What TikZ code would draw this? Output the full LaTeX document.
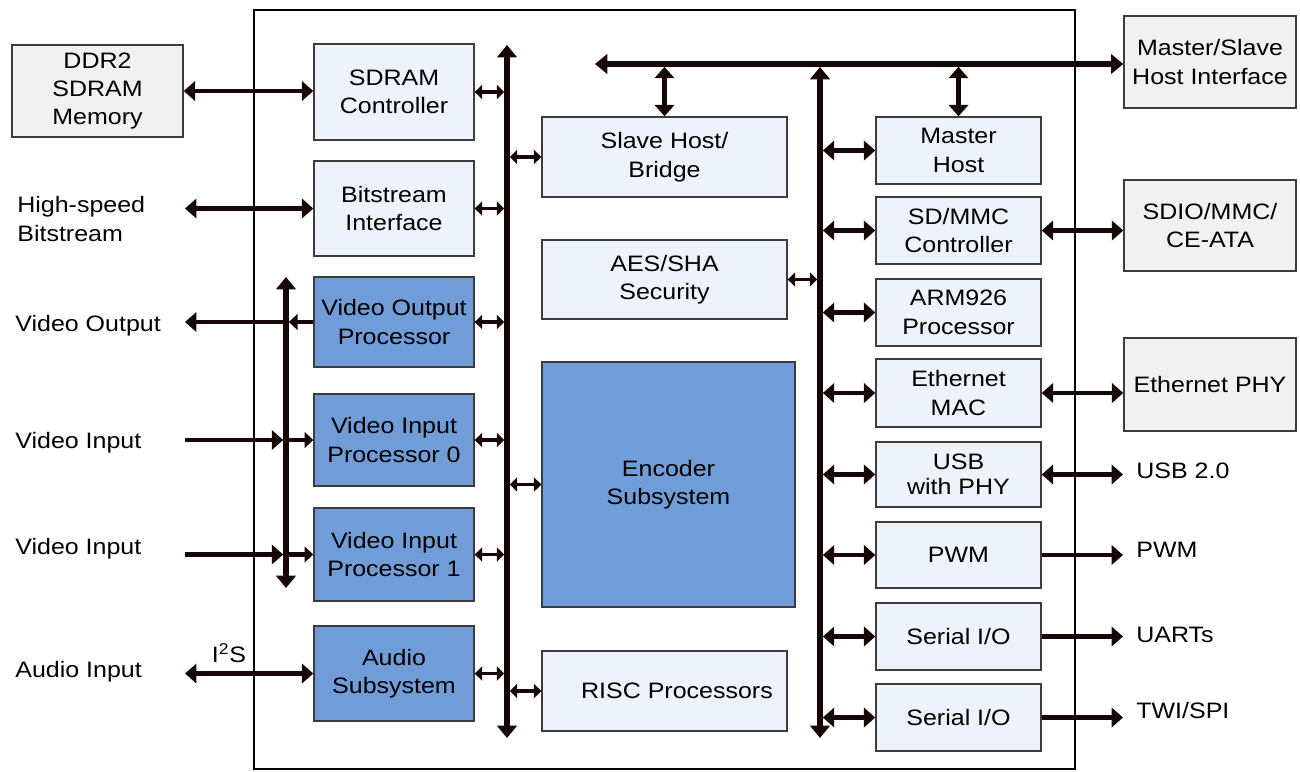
\documentclass[tikz,border=0pt]{standalone}
\usepackage{fontspec}
\setmainfont{Liberation Sans}[FakeStretch=1.12]
\usetikzlibrary{arrows.meta}
\definecolor{boxfill}{RGB}{238,242,250}
\definecolor{extfill}{RGB}{241,241,241}
\definecolor{blkblue}{RGB}{112,156,216}
\definecolor{boxline}{RGB}{60,60,60}
\definecolor{buscol}{RGB}{22,6,6}
\tikzset{
  blk/.style={draw=boxline, fill=boxfill, line width=0.8pt, align=center, inner sep=1pt},
  blueblk/.style={blk, fill=blkblue},
  extblk/.style={blk, fill=extfill},
  lbl/.style={inner sep=0pt, align=left},
  bus/.style={draw=buscol, line width=3.3pt, {Triangle[length=7pt,width=11pt]}-{Triangle[length=7pt,width=11pt]}},
  bigarr/.style={draw=buscol, line width=2.8pt, {Triangle[length=6.5pt,width=11pt]}-{Triangle[length=6.5pt,width=11pt]}},
  outarr/.style={draw=buscol, line width=2.8pt, -{Triangle[length=6.5pt,width=11pt]}},
  smallarr/.style={draw=buscol, line width=2.2pt, {Triangle[length=4.2pt,width=8pt]}-{Triangle[length=4.2pt,width=8pt]}},
  smallout/.style={draw=buscol, line width=2.4pt, -{Triangle[length=5pt,width=9pt]}}
}
\begin{document}
\begin{tikzpicture}[x=0.02cm, y=-0.02cm, font=\fontsize{12.7}{16.2}\selectfont]
    \useasboundingbox (0,0) rectangle (1300,771);
    % chip outline
    \draw[line width=1.3pt] (254,769) -- (254,10) -- (1075,10) -- (1075,769) -- cycle;
    % bus coordinates
    \coordinate (ltop) at (507,45);
    \coordinate (lbot) at (507,738);
    \coordinate (rtop) at (820,67);
    \coordinate (rbot) at (820,738);
    \coordinate (vtop) at (286,277);
    \coordinate (vbot) at (286,588);
    \coordinate (tleft) at (595,64);
    \coordinate (extL) at (185,0);
    \coordinate (extR) at (1123,0);
    % left column
    \node[extblk, minimum width=3.42cm, minimum height=1.84cm] (ddr) at (97.5,91) {DDR2\\SDRAM\\Memory};
    \node[blk, minimum width=3.2cm, minimum height=1.92cm] (sdram) at (394,92) {SDRAM\\Controller};
    \node[blk, minimum width=3.2cm, minimum height=1.9cm] (bits) at (394,208.5) {Bitstream\\Interface};
    \node[blueblk, minimum width=3.2cm, minimum height=1.8cm] (vop) at (394,322) {Video Output\\Processor};
    \node[blueblk, minimum width=3.2cm, minimum height=1.84cm] (vip0) at (394,440) {Video Input\\Processor 0};
    \node[blueblk, minimum width=3.2cm, minimum height=1.86cm] (vip1) at (394,554.5) {Video Input\\Processor 1};
    \node[blueblk, minimum width=3.2cm, minimum height=1.9cm] (audio) at (394,673.5) {Audio\\Subsystem};
    % middle column
    \node[blk, minimum width=4.9cm, minimum height=1.6cm] (slave) at (664.5,157) {Slave Host/\\Bridge};
    \node[blk, minimum width=4.9cm, minimum height=1.58cm] (aes) at (664.5,279.5) {AES/SHA\\Security};
    \node[blueblk, minimum width=5.06cm, minimum height=4.9cm] (enc) at (668.5,484.5) {Encoder\\Subsystem};
    \node[blk, minimum width=4.9cm, minimum height=1.6cm] (risc) at (664.5,691) {\hspace{0.5cm}RISC Processors};
    % right column
    \node[blk, minimum width=3.3cm, minimum height=1.34cm] (mhost) at (958.5,150.5) {Master\\Host};
    \node[blk, minimum width=3.3cm, minimum height=1.34cm] (sdmmc) at (958.5,230.5) {SD/MMC\\Controller};
    \node[blk, minimum width=3.3cm, minimum height=1.34cm] (arm) at (958.5,312.5) {ARM926\\Processor};
    \node[blk, minimum width=3.3cm, minimum height=1.36cm] (emac) at (958.5,393) {Ethernet\\MAC};
    \node[blk, minimum width=3.3cm, minimum height=1.3cm, font=\fontsize{12.7}{14}\selectfont] (usb) at (958.5,474.5) {USB\\with PHY};
    \node[blk, minimum width=3.3cm, minimum height=1.32cm] (pwm) at (958.5,555) {PWM};
    \node[blk, minimum width=3.3cm, minimum height=1.34cm] (sio1) at (958.5,636.5) {Serial I/O};
    \node[blk, minimum width=3.3cm, minimum height=1.34cm] (sio2) at (958.5,717.5) {Serial I/O};
    % outside blocks
    \node[extblk, minimum width=3.44cm, minimum height=1.84cm] (msif) at (1210,62) {Master/Slave\\Host Interface};
    \node[extblk, minimum width=3.44cm, minimum height=1.82cm] (sdio) at (1210,225.5) {SDIO/MMC/\\CE-ATA};
    \node[extblk, minimum width=3.44cm, minimum height=1.86cm] (ephy) at (1210,384.5) {Ethernet PHY};
    % labels
    \node[lbl, anchor=west] (hsb) at (17,219) {High-speed\\Bitstream};
    \node[lbl, anchor=west] (vout) at (15,326) {Video Output};
    \node[lbl, anchor=west] (vin0) at (15,443) {Video Input};
    \node[lbl, anchor=west] (vin1) at (15,549) {Video Input};
    \node[lbl, anchor=west] (ain) at (15,672) {Audio Input};
    \node (i2s) at (229,653) {I\textsuperscript{2}S};
    \node[lbl, anchor=west] (usbo) at (1136,471) {USB 2.0};
    \node[lbl, anchor=west] (pwmo) at (1136,550) {PWM};
    \node[lbl, anchor=west] (uart) at (1136,635) {UARTs};
    \node[lbl, anchor=west] (twi) at (1136,711) {TWI/SPI};
    % buses
    \draw[bus] (ltop) -- (lbot);
    \draw[bus] (rtop) -- (rbot);
    \draw[bus] (vtop) -- (vbot);
    \draw[bus] (tleft) -- (tleft -| msif.west);
    \draw[bigarr, shorten <=1.6pt] (slave.north |- tleft) -- (slave.north);
    \draw[bigarr, shorten <=1.6pt] (mhost.north |- tleft) -- (mhost.north);
    % left bus links
    \foreach \b in {sdram,bits,vop,vip0,vip1,audio}
        \draw[smallarr, shorten >=1.6pt] (\b.east) -- (\b.east -| ltop);
    \foreach \b in {slave,enc,risc}
        \draw[smallarr, shorten <=1.6pt] (\b.west -| ltop) -- (\b.west);
    \draw[smallarr, shorten >=1.6pt] (aes.east) -- (aes.east -| rtop);
    % right bus links
    \foreach \b in {mhost,sdmmc,arm,emac,usb,pwm,sio1,sio2}
        \draw[bigarr, shorten <=1.6pt] (\b.west -| rtop) -- (\b.west);
    % outside links
    \draw[bigarr] (ddr.east) -- (ddr.east -| sdram.west);
    \draw[bigarr] (bits.west -| extL) -- (bits.west);
    \draw[smallout, shorten >=1.6pt] (vop.west) -- (vop.west -| vtop);
    \draw[outarr] (vop.west -| vtop) -- (vop.west -| extL);
    \draw[outarr, shorten >=1.6pt] (vip0.west -| extL) -- (vip0.west -| vtop);
    \draw[smallout] (vip0.west -| vtop) -- (vip0.west);
    \draw[outarr, shorten >=1.6pt] (vip1.west -| extL) -- (vip1.west -| vtop);
    \draw[smallout] (vip1.west -| vtop) -- (vip1.west);
    \draw[bigarr] (audio.west -| extL) -- (audio.west);
    \draw[bigarr] (sdmmc.east) -- (sdmmc.east -| sdio.west);
    \draw[bigarr] (emac.east) -- (emac.east -| ephy.west);
    \draw[bigarr] (usb.east) -- (usb.east -| extR);
    \draw[outarr] (pwm.east) -- (pwm.east -| extR);
    \draw[outarr] (sio1.east) -- (sio1.east -| extR);
    \draw[outarr] (sio2.east) -- (sio2.east -| extR);
\end{tikzpicture}
\end{document}
